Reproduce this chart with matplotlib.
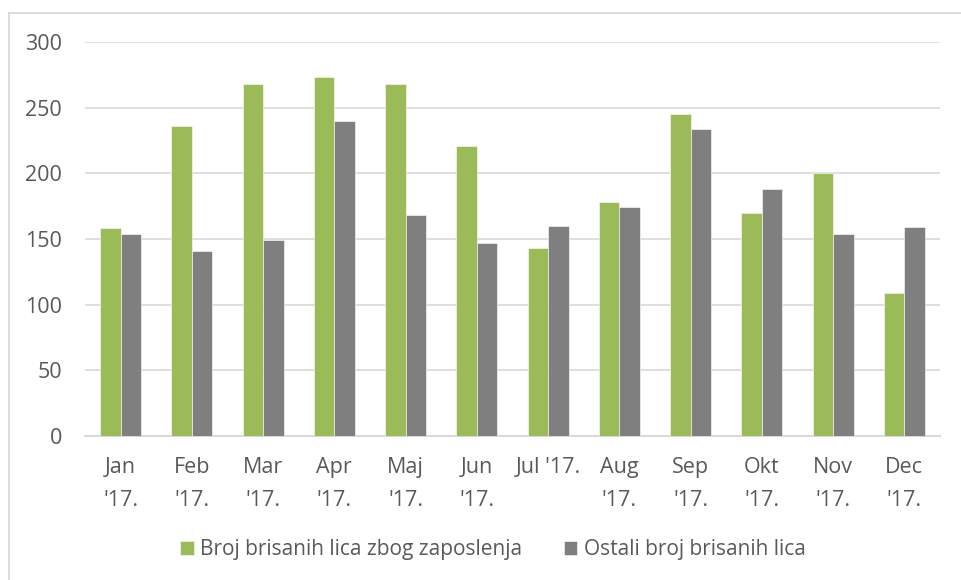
import numpy as np
import matplotlib
matplotlib.use("Agg")
import matplotlib.pyplot as plt
from matplotlib.patches import Rectangle

# data
months = ["Jan\n'17.", "Feb\n'17.", "Mar\n'17.", "Apr\n'17.", "Maj\n'17.", "Jun\n'17.",
          "Jul '17.", "Aug\n'17.", "Sep\n'17.", "Okt\n'17.", "Nov\n'17.", "Dec\n'17."]
zaposlenje = [158, 236, 268, 273, 268, 221, 143, 178, 245, 170, 200, 109]
ostali = [154, 141, 149, 240, 168, 147, 160, 174, 234, 188, 154, 159]
yticks = [0, 50, 100, 150, 200, 250, 300]

green = "#9bbb59"
gray = "#7f7f7f"
grid = "#d9d9d9"
txt = "#595959"

plt.rcParams['font.family'] = ['Open Sans', 'DejaVu Sans']

W, H = 962, 580
fig = plt.figure(figsize=(W / 100, H / 100), dpi=100)

# outer chart frame (only left and top edges visible)
fig.patches.append(Rectangle((8.5 / W, -0.1), 1.2, 1.1 - 12.5 / H, transform=fig.transFigure,
                             fill=False, edgecolor=grid, linewidth=1.3))
# cut-off title glyph at the very top
fig.text(96 / W, 1.0 + 7 / H, "g", fontsize=16, color="black", fontweight="bold",
         va="baseline", ha="left")

ax = fig.add_axes([85 / W, (H - 436) / H, 855 / W, 394 / H])

x = np.arange(len(months))
bw = 0.288
ax.bar(x - bw / 2, zaposlenje, bw, color=green, edgecolor="white", linewidth=0.4,
       label="Broj brisanih lica zbog zaposlenja", zorder=3)
ax.bar(x + bw / 2, ostali, bw, color=gray, edgecolor="white", linewidth=0.4,
       label="Ostali broj brisanih lica", zorder=3)

ax.set_xlim(-0.5, len(months) - 0.5)
ax.set_ylim(0, 300)
ax.set_yticks(yticks)
ax.yaxis.grid(True, color=grid, linewidth=1.2, zorder=0)
ax.set_axisbelow(True)
for s in ["top", "right", "left"]:
    ax.spines[s].set_visible(False)
ax.spines["bottom"].set_color(grid)
ax.spines["bottom"].set_linewidth(1.5)
ax.tick_params(axis="both", length=0, labelsize=15.5, colors=txt)
ax.tick_params(axis="y", pad=16.5)
ax.tick_params(axis="x", pad=15)
ax.set_xticks(x)
ax.set_xticklabels(months)
for lab in ax.get_xticklabels():
    lab.set_linespacing(1.75)

leg = fig.legend(loc="center", bbox_to_anchor=(493 / W, (H - 550) / H), ncol=2, frameon=False,
                 fontsize=15, handlelength=0.65, handleheight=0.65, handletextpad=0.3,
                 columnspacing=2.0, labelcolor=txt)

fig.savefig("out.png", dpi=100)
